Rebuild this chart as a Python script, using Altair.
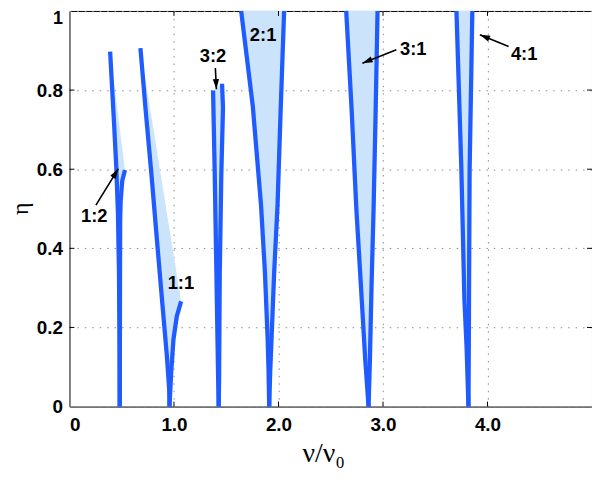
import math
import altair as alt
import pandas as pd

# ---- tongue boundaries (nu/nu0, eta) ----
t12_lx = [0.389, 0.427, 0.448, 0.464, 0.474, 0.479, 0.481]
t12_ly = [0.897, 0.714, 0.605, 0.488, 0.338, 0.150, 0.000]
t12_rx = [0.481, 0.483, 0.485, 0.490, 0.505, 0.531]
t12_ry = [0.000, 0.250, 0.471, 0.521, 0.571, 0.598]

t11_lx = [0.679, 0.727, 0.784, 0.837, 0.891, 0.932, 0.954, 0.957]
t11_ly = [0.906, 0.755, 0.588, 0.421, 0.253, 0.128, 0.044, 0.000]
t11_rx = [0.957, 0.973, 0.995, 1.027, 1.068]
t11_ry = [0.000, 0.086, 0.170, 0.228, 0.266]

t32_lx = [1.374, 1.390, 1.406, 1.422, 1.428]
t32_ly = [0.799, 0.588, 0.337, 0.080, 0.000]
t32_rx = [1.428, 1.432, 1.438, 1.453, 1.469, 1.460]
t32_ry = [0.000, 0.080, 0.337, 0.588, 0.755, 0.816]

t21_lx = [1.643, 1.754, 1.833, 1.870, 1.896, 1.905, 1.911]
t21_ly = [1.000, 0.760, 0.509, 0.341, 0.174, 0.090, 0.000]
t21_rx = [1.911, 1.921, 1.934, 1.959, 1.991, 2.022, 2.054]
t21_ry = [0.000, 0.090, 0.174, 0.341, 0.509, 0.760, 1.000]

t31_lx = [2.648, 2.700, 2.745, 2.790, 2.830, 2.862]
t31_ly = [1.000, 0.750, 0.500, 0.300, 0.120, 0.000]
t31_rx = [2.862, 2.875, 2.890, 2.910, 2.930, 2.948]
t31_ry = [0.000, 0.120, 0.300, 0.500, 0.750, 1.000]

t41_lx = [3.703, 3.750, 3.779, 3.800, 3.818]
t41_ly = [1.000, 0.600, 0.270, 0.150, 0.000]
t41_rx = [3.818, 3.822, 3.823, 3.829, 3.855]
t41_ry = [0.000, 0.200, 0.270, 0.600, 1.000]

tongues = [
    ("1:2", t12_lx, t12_ly, t12_rx, t12_ry),
    ("1:1", t11_lx, t11_ly, t11_rx, t11_ry),
    ("3:2", t32_lx, t32_ly, t32_rx, t32_ry),
    ("2:1", t21_lx, t21_ly, t21_rx, t21_ry),
    ("3:1", t31_lx, t31_ly, t31_rx, t31_ry),
    ("4:1", t41_lx, t41_ly, t41_rx, t41_ry),
]

# ---- labels and arrows ----
lab_text = ["1:2", "1:1", "3:2", "2:1", "3:1", "4:1"]
lab_x = [0.237, 1.066, 1.374, 1.853, 3.289, 4.351]
lab_y = [0.482, 0.313, 0.886, 0.940, 0.904, 0.891]

arr_x0 = [0.253, 1.396, 3.128, 4.202]
arr_y0 = [0.509, 0.856, 0.902, 0.910]
arr_x1 = [0.467, 1.406, 2.803, 3.927]
arr_y1 = [0.601, 0.802, 0.868, 0.940]

x_ticks = [0, 1, 2, 3, 4]
y_ticks = [0, 0.2, 0.4, 0.6, 0.8, 1.0]
x_inner = [1, 2, 3, 4]
y_inner = [0.2, 0.4, 0.6, 0.8]

W, H = 527, 399
XMAX = 5.0

# ---- tables ----
line_rows, fill_rows = [], []
for name, lx, ly, rx, ry in tongues:
    for i, (a, b) in enumerate(zip(lx, ly)):
        line_rows.append(dict(t=name, side="L", i=i, x=a, y=b))
    for i, (a, b) in enumerate(zip(rx, ry)):
        line_rows.append(dict(t=name, side="R", i=i, x=a, y=b))
    px = list(lx) + list(rx[1:])
    py = list(ly) + list(ry[1:])
    for i, (a, b) in enumerate(zip(px, py)):
        fill_rows.append(dict(t=name, i=i, x=a, y=b))
lines_df = pd.DataFrame(line_rows)
fill_df = pd.DataFrame(fill_rows)

labels_df = pd.DataFrame(dict(x=lab_x, y=lab_y, text=lab_text))

ang = []
for a0, b0, a1, b1 in zip(arr_x0, arr_y0, arr_x1, arr_y1):
    dx = (a1 - a0) * W / XMAX
    dy = (b1 - b0) * H
    ang.append(math.degrees(math.atan2(dx, dy)) % 360)
arrows_df = pd.DataFrame(dict(x=arr_x0, y=arr_y0, x2=arr_x1, y2=arr_y1, ang=ang))

xticks_df = pd.DataFrame(dict(x=x_inner))
yticks_df = pd.DataFrame(dict(y=y_inner))

xscale = alt.Scale(domain=[0, XMAX], nice=False, zero=False)
yscale = alt.Scale(domain=[0, 1], nice=False, zero=False)

xaxis = alt.Axis(
    values=x_ticks,
    labelExpr="datum.value == 0 ? '0' : format(datum.value, '.1f')",
    title="ν/ν₀",
    titleFont="Liberation Serif",
    titleFontSize=28,
    titleFontWeight="normal",
    titleX=256,
    titleY=55,
    titleBaseline="alphabetic",
    titleAlign="center",
    grid=True,
    gridColor="#8a8a8a",
    gridDash=[1.5, 6],
    gridWidth=1,
    ticks=False,
    domain=False,
    labelPadding=9,
)
yaxis = alt.Axis(
    values=y_ticks,
    labelExpr="datum.value == 0 ? '0' : datum.value == 1 ? '1' : format(datum.value, '.1f')",
    labelOffset={"condition": {"test": "datum.value == 1", "value": 8}, "value": 0},
    labelFontSize={"condition": {"test": "datum.value == 1", "value": 18}, "value": 19},
    title="η",
    titleFont="Liberation Serif",
    titleFontSize=24,
    titleFontWeight="normal",
    titleAngle=270,
    titleX=-49,
    titleY=199,
    titleBaseline="middle",
    titleAlign="center",
    grid=True,
    gridColor="#8a8a8a",
    gridDash=[1.5, 6],
    gridWidth=1,
    ticks=False,
    domain=False,
    labelPadding=7,
)

BLUE = "#1f5bff"
FILL = "#cce4fb"

fill = alt.Chart(fill_df).mark_line(fill=FILL, strokeOpacity=0, strokeWidth=0).encode(
    x=alt.X("x:Q", scale=xscale, axis=xaxis),
    y=alt.Y("y:Q", scale=yscale, axis=yaxis),
    detail="t:N",
    order=alt.Order("i:Q"),
)

lines = alt.Chart(lines_df).mark_line(color=BLUE, strokeWidth=4.3, strokeJoin="round").encode(
    x=alt.X("x:Q", scale=xscale, axis=xaxis),
    y=alt.Y("y:Q", scale=yscale, axis=yaxis),
    detail=alt.Detail(["t:N", "side:N"]),
    order=alt.Order("i:Q"),
)

arrow_lines = alt.Chart(arrows_df).mark_rule(color="black", strokeWidth=1.6).encode(
    x=alt.X("x:Q", scale=xscale, axis=xaxis),
    y=alt.Y("y:Q", scale=yscale, axis=yaxis),
    x2="x2:Q",
    y2="y2:Q",
)

arrow_heads = alt.Chart(arrows_df).mark_point(
    shape="M0,0L0.55,1.8L-0.55,1.8Z", filled=True, color="black", opacity=1, size=130, strokeWidth=0
).encode(
    x=alt.X("x2:Q", scale=xscale, axis=xaxis),
    y=alt.Y("y2:Q", scale=yscale, axis=yaxis),
    angle=alt.Angle("ang:Q", scale=None),
)

texts = alt.Chart(labels_df).mark_text(
    font="Liberation Sans", fontWeight="bold", fontSize=18.5, color="black"
).encode(
    x=alt.X("x:Q", scale=xscale, axis=xaxis),
    y=alt.Y("y:Q", scale=yscale, axis=yaxis),
    text="text:N",
)

tick_l = alt.Chart(yticks_df).mark_rule(color="black", strokeWidth=1).encode(
    y=alt.Y("y:Q", scale=yscale, axis=yaxis), x=alt.value(0), x2=alt.value(5)
)
tick_r = alt.Chart(yticks_df).mark_rule(color="black", strokeWidth=1).encode(
    y=alt.Y("y:Q", scale=yscale, axis=yaxis), x=alt.value(W - 5), x2=alt.value(W)
)
tick_b = alt.Chart(xticks_df).mark_rule(color="black", strokeWidth=1).encode(
    x=alt.X("x:Q", scale=xscale, axis=xaxis), y=alt.value(H - 5), y2=alt.value(H)
)
tick_t = alt.Chart(xticks_df).mark_rule(color="black", strokeWidth=1).encode(
    x=alt.X("x:Q", scale=xscale, axis=xaxis), y=alt.value(0), y2=alt.value(5)
)

chart = alt.layer(
    fill, lines, tick_l, tick_r, tick_b, tick_t, arrow_lines, arrow_heads, texts
).properties(
    width=W,
    height=H,
    autosize=alt.AutoSizeParams(type="none"),
    padding={"left": 62, "top": 1, "right": 0, "bottom": 64},
    background="white",
).configure_view(
    stroke="black", strokeWidth=1
).configure_axis(
    labelFont="Liberation Sans",
    labelFontWeight="bold",
    labelFontSize=19,
    labelColor="black",
    titleColor="black",
)

chart.save("out.html", embed_options={"renderer": "svg", "actions": False})
